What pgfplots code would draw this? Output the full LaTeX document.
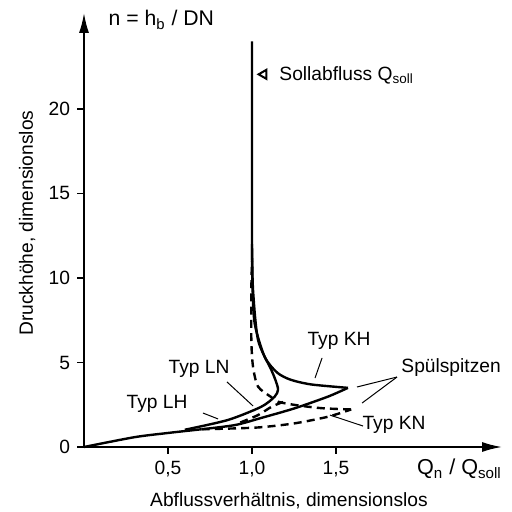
\documentclass[border=0pt]{standalone}
\usepackage{fontspec}
\setmainfont{Liberation Sans}
\usepackage{pgfplots}
\pgfplotsset{compat=1.18}
\usetikzlibrary{arrows.meta}

\pgfplotsset{
  kurve/.style={line width=1.2pt, black, no marks, line join=round, smooth, tension=0.45},
  gestrichelt/.style={kurve, dash pattern=on 4pt off 2.6pt},
}
\tikzset{zeiger/.style={line width=0.5pt, black}}

\begin{document}
\begin{tikzpicture}[font=\fontsize{9.6}{11.5}\selectfont]
\begin{axis}[
  scale only axis, width=209pt, height=217pt,
  xmin=0, xmax=2.488, ymin=0, ymax=25.68, enlargelimits=false,
  axis lines=left,
  axis line style={line width=0.9pt, -{Latex[length=10pt,width=5pt]}},
  xtick={0.5,1,1.5}, xticklabels={{0,5},{1,0},{1,5}},
  ytick={0,5,10,15,20},
  tick align=outside, major tick length=3.5pt,
  tick style={line width=0.6pt, black},
  /pgf/number format/assume math mode=true,
  tick label style={font=\fontsize{9.6}{11.5}\selectfont},
  clip=false,
]
% gemeinsamer Anfang
\addplot[kurve] coordinates {(0,0) (0.3,0.58) (0.5,0.83) (0.7,1.05)};
% Typ KH, untere Kante bis Spuelspitze
\addplot[kurve] coordinates {(0.7,1.05) (0.9,1.3) (1.055,1.72) (1.254,2.29) (1.452,2.98) (1.571,3.5)};
% Typ KH, obere Kante und Senkrechte
\addplot[kurve] coordinates {(1.571,3.5) (1.353,3.7) (1.23,3.98) (1.15,4.4) (1.075,5.34) (1.016,7.3) (1.003,9.5) (1.0,12) (1.0,24)};
% innere Schleife (durchgezogen)
\addplot[kurve] coordinates {(0.6,1.02) (0.857,1.6) (1.055,2.38) (1.135,2.98) (1.155,3.4) (1.14,3.95) (1.115,4.56) (1.036,6.33) (1.006,9.3) (1.0,12)};
% Typ KN (gestrichelt), untere Kante
\addplot[gestrichelt] coordinates {(0.7,1.05) (0.897,1.1) (1.055,1.17) (1.254,1.4) (1.452,1.79) (1.59,2.22)};
% Typ KN, obere Kante und senkrechter Teil
\addplot[gestrichelt] coordinates {(1.59,2.22) (1.41,2.3) (1.254,2.49) (1.155,2.68) (1.115,2.95) (1.036,3.57) (1.006,4.75) (0.996,6.33) (0.996,9.3) (1.0,11)};
% Typ LN (gestrichelt), kurzes Stueck
\addplot[gestrichelt] coordinates {(0.93,1.45) (1.036,1.89) (1.12,2.4) (1.2,2.72)};
% Sollabfluss-Marke
\addplot[only marks, mark=triangle, mark size=2.6pt, mark options={rotate=90, line width=1pt}] coordinates {(1.07,22.05)};

% Beschriftungen
\node[anchor=west, font=\fontsize{10.6}{12.5}\selectfont] at (axis cs:0.105,25.27) {n = h\textsubscript{b} / DN};
\node[anchor=west, inner sep=0pt] at (axis cs:1.161,22.0) {Sollabfluss Q\textsubscript{soll}};
\node[font=\fontsize{10.8}{12.5}\selectfont] at (axis cs:2.235,-1.3) {Q\textsubscript{n} / Q\textsubscript{soll}};
\node at (axis cs:1.22,-3.2) {Abflussverhältnis, dimensionslos};
\node[rotate=90] at (axis cs:-0.339,13.25) {Druckhöhe, dimensionslos};

\node at (axis cs:1.518,6.27) {Typ KH};
\draw[zeiger] (axis cs:1.417,5.27) -- (axis cs:1.375,4.08);
\node at (axis cs:0.685,4.62) {Typ LN};
\draw[zeiger] (axis cs:0.851,3.85) -- (axis cs:1.006,2.43);
\node at (axis cs:0.435,2.54) {Typ LH};
\draw[zeiger] (axis cs:0.708,2.01) -- (axis cs:0.798,1.66);
\node at (axis cs:2.185,4.73) {Spülspitzen};
\draw[zeiger] (axis cs:1.863,4.14) -- (axis cs:1.625,3.55);
\draw[zeiger] (axis cs:1.863,4.14) -- (axis cs:1.655,2.6);
\node at (axis cs:1.845,1.3) {Typ KN};
\draw[zeiger] (axis cs:1.464,1.89) -- (axis cs:1.661,1.24);
\end{axis}
\pgfresetboundingbox
\useasboundingbox (-42pt,-32.5pt) rectangle (213.5pt,223.5pt);
\end{tikzpicture}
\end{document}
